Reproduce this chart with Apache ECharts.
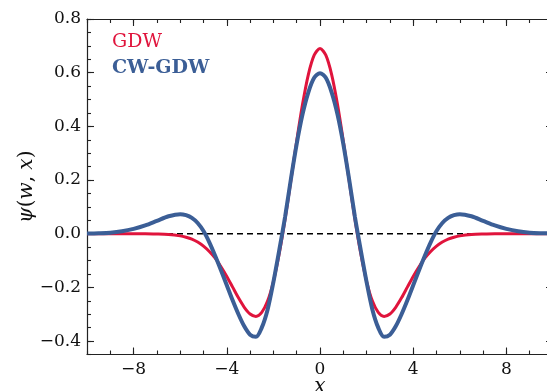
<!DOCTYPE html>
<html>
<head>
    <meta charset="utf-8"/>
    <title>GDW vs CW-GDW</title>
    <script src="https://cdn.jsdelivr.net/npm/echarts@6/dist/echarts.min.js"></script>
    <style>
        html, body { margin: 0; padding: 0; background: #fff; }
    </style>
</head>
<body>
<div id="main" style="width: 547px; height: 391px"></div>
<script type="text/javascript">
    // sample positions (denser in the middle)
    var xs = [-10, -9.5, -9, -8.5, -8, -7.5, -7, -6.5,
        -6, -5.75, -5.5, -5.25, -5, -4.75, -4.5, -4.25, -4, -3.75, -3.5, -3.25,
        -3, -2.75, -2.5, -2.25, -2, -1.75, -1.5, -1.25, -1, -0.75, -0.5, -0.25,
        0,
        0.25, 0.5, 0.75, 1, 1.25, 1.5, 1.75, 2, 2.25, 2.5, 2.75, 3,
        3.25, 3.5, 3.75, 4, 4.25, 4.5, 4.75, 5, 5.25, 5.5, 5.75, 6,
        6.5, 7, 7.5, 8, 8.5, 9, 9.5, 10];

    var gdw = [0, 0, 0, 0, 0, 0, -0.001, -0.003,
        -0.008, -0.013, -0.020, -0.031, -0.046, -0.066, -0.091, -0.123, -0.159, -0.199, -0.239, -0.274,
        -0.299, -0.308, -0.293, -0.251, -0.178, -0.074, 0.054, 0.198, 0.346, 0.482, 0.593, 0.665,
        0.690,
        0.665, 0.593, 0.482, 0.346, 0.198, 0.054, -0.074, -0.178, -0.251, -0.293, -0.308, -0.299,
        -0.274, -0.239, -0.199, -0.159, -0.123, -0.091, -0.066, -0.046, -0.031, -0.020, -0.013, -0.008,
        -0.003, -0.001, 0, 0, 0, 0, 0, 0];

    var cwgdw = [0.001, 0.002, 0.004, 0.009, 0.018, 0.031, 0.048, 0.065,
        0.073, 0.069, 0.059, 0.040, 0.010, -0.032, -0.082, -0.136, -0.192, -0.248, -0.300, -0.345,
        -0.376, -0.384, -0.350, -0.283, -0.180, -0.062, 0.062, 0.203, 0.335, 0.445, 0.527, 0.581,
        0.598,
        0.581, 0.527, 0.445, 0.335, 0.203, 0.062, -0.062, -0.180, -0.283, -0.350, -0.384, -0.376,
        -0.345, -0.300, -0.248, -0.192, -0.136, -0.082, -0.032, 0.010, 0.040, 0.059, 0.069, 0.073,
        0.065, 0.048, 0.031, 0.018, 0.009, 0.004, 0.002, 0.001];

    var zeroX = [-10, 10];
    var zeroY = [0, 0];

    var xMajor = [-8, -4, 0, 4, 8];
    var yMajor = [-0.4, -0.2, 0, 0.2, 0.4, 0.6, 0.8];

    var serif = 'DejaVu Serif';
    var axisColor = '#222';
    var red = '#e0143c';
    var blue = '#3b5e96';

    function minus(s) { return s.replace('-', '\u2212'); }

    function xAxisDef(pos, major, showLabel) {
        var a = {
            type: 'value', position: pos, min: -10, max: 10,
            splitLine: {show: false},
            axisLine: {show: !major, onZero: false, lineStyle: {color: axisColor, width: 1.2}},
            axisTick: {show: true, inside: true, length: major ? 7 : 4, lineStyle: {color: axisColor, width: 1.1}},
            axisLabel: {show: false}
        };
        if (major) {
            a.axisTick.customValues = xMajor;
        } else {
            a.interval = 1;
        }
        if (showLabel) {
            a.axisLabel = {
                show: true, customValues: xMajor, margin: 7,
                fontFamily: serif, fontSize: 17, color: '#111',
                formatter: function (v) { return minus(String(v)); }
            };
            a.name = 'x';
            a.nameLocation = 'middle';
            a.nameGap = 22;
            a.nameMoveOverlap = false;
            a.nameTextStyle = {fontFamily: serif, fontStyle: 'italic', fontSize: 20, color: '#111'};
        }
        return a;
    }

    function yAxisDef(pos, major, showLabel) {
        var a = {
            type: 'value', position: pos, min: -0.45, max: 0.8,
            splitLine: {show: false},
            axisLine: {show: !major, onZero: false, lineStyle: {color: axisColor, width: 1.2}},
            axisTick: {show: true, inside: true, length: major ? 7 : 4, lineStyle: {color: axisColor, width: 1.1}},
            axisLabel: {show: false}
        };
        if (major) {
            a.axisTick.customValues = yMajor;
        } else {
            a.interval = 0.05;
        }
        if (showLabel) {
            a.axisLabel = {
                show: true, customValues: yMajor, margin: 6,
                fontFamily: serif, fontSize: 17, color: '#111',
                formatter: function (v) { return minus(v.toFixed(1)); }
            };
            a.name = '{i|\u03c8}{r|(}{i|w}{r|, }{i|x}{r|)}';
            a.nameLocation = 'middle';
            a.nameGap = 50;
            a.nameMoveOverlap = false;
            a.nameTextStyle = {
                fontFamily: serif, fontSize: 20, color: '#111',
                rich: {
                    i: {fontFamily: serif, fontStyle: 'italic', fontSize: 20, color: '#111'},
                    r: {fontFamily: serif, fontSize: 20, color: '#111'}
                }
            };
        }
        return a;
    }

    var myChart = echarts.init(document.getElementById('main'));

    var option = {
        animation: false,
        backgroundColor: '#fff',
        grid: {left: 87, right: -6, top: 19, bottom: 36.5, outerBoundsMode: 'none'},
        legend: {
            left: 102, top: 28, orient: 'vertical', icon: 'none',
            itemWidth: 0, itemHeight: 14, itemGap: 7, selectedMode: false,
            textStyle: {fontFamily: serif, fontSize: 19},
            data: [
                {name: 'GDW', textStyle: {color: red}},
                {name: 'CW-GDW', textStyle: {color: blue, fontWeight: 'bold'}}
            ]
        },
        xAxis: [
            xAxisDef('bottom', false, true),
            xAxisDef('bottom', true, false),
            xAxisDef('top', false, false),
            xAxisDef('top', true, false)
        ],
        yAxis: [
            yAxisDef('left', false, true),
            yAxisDef('left', true, false),
            yAxisDef('right', false, false),
            yAxisDef('right', true, false)
        ],
        series: [
            {
                name: 'zero', type: 'line', showSymbol: false, silent: true,
                data: zeroX.map(function (x, i) { return [x, zeroY[i]]; }),
                lineStyle: {color: '#000', width: 1.5, type: [6, 4]},
                z: 1
            },
            {
                name: 'GDW', type: 'line', showSymbol: false, smooth: 0.3,
                data: xs.map(function (x, i) { return [x, gdw[i]]; }),
                lineStyle: {color: red, width: 3},
                itemStyle: {color: red},
                z: 2
            },
            {
                name: 'CW-GDW', type: 'line', showSymbol: false, smooth: 0.3,
                data: xs.map(function (x, i) { return [x, cwgdw[i]]; }),
                lineStyle: {color: blue, width: 4},
                itemStyle: {color: blue},
                z: 3
            }
        ]
    };

    myChart.setOption(option);
</script>
</body>
</html>
